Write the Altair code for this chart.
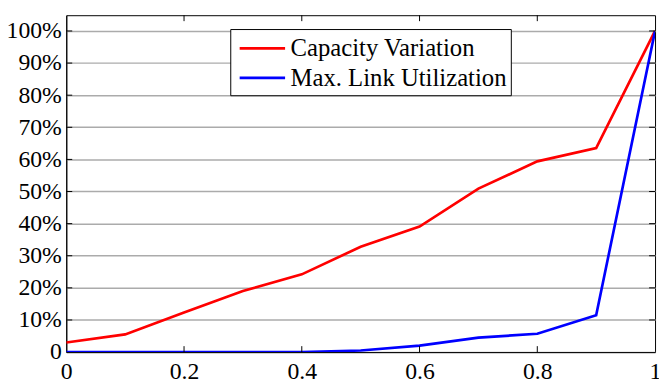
import altair as alt
import pandas as pd

x_vals = [0, 0.1, 0.2, 0.3, 0.4, 0.5, 0.6, 0.7, 0.8, 0.9, 1.0]
capacity = [3.0, 5.5, 12.3, 19.0, 24.2, 32.8, 39.1, 50.9, 59.4, 63.5, 100.0]
utilization = [0, 0, 0, 0, 0, 0.5, 2.0, 4.5, 5.7, 11.5, 100.0]
series_names = ["Capacity Variation", "Max. Link Utilization"]
series_colors = ["#ff0000", "#0000ff"]
x_ticks = [0, 0.2, 0.4, 0.6, 0.8, 1.0]
y_ticks = [0, 10, 20, 30, 40, 50, 60, 70, 80, 90, 100]

W, H = 596, 341
FONT = "Liberation Serif"

rows = []
for name, vals in zip(series_names, [capacity, utilization]):
    for xv, yv in zip(x_vals, vals):
        rows.append({"x": xv, "y": yv, "series": name})
df = pd.DataFrame(rows)

xs = alt.Scale(domain=[0, 1], nice=False, zero=False)
ys = alt.Scale(domain=[0, 104.9], nice=False)

x_axis = alt.Axis(
    values=x_ticks, format=".1~f", grid=False, ticks=False,
    labelFont=FONT, labelFontSize=24, labelColor="black", labelPadding=8,
    labelOverlap=False, domainColor="black", title=None, labelFlush=False)
y_axis = alt.Axis(
    values=y_ticks, labelExpr="datum.value == 0 ? '0' : datum.value + '%'",
    grid=True, gridColor="#ababab", gridWidth=1.5, ticks=False,
    labelOverlap=False, labelFlush=False,
    labelFont=FONT, labelFontSize=24, labelColor="black", labelPadding=5,
    domainColor="black", title=None)

lines = alt.Chart(df).mark_line(strokeWidth=2.7, clip=True).encode(
    x=alt.X("x:Q", scale=xs, axis=x_axis),
    y=alt.Y("y:Q", scale=ys, axis=y_axis),
    color=alt.Color("series:N", scale=alt.Scale(domain=series_names, range=series_colors),
                    legend=alt.Legend(
                        title=None, orient="none", legendX=166, legendY=14,
                        fillColor="white", strokeColor="black", padding=4,
                        symbolType="M-0.714,0H2.571", symbolSize=784, symbolStrokeWidth=2.7,
                        labelFont=FONT, labelFontSize=25, labelColor="black",
                        labelLimit=400, rowPadding=1, labelOffset=26, cornerRadius=0)),
)

xt = pd.DataFrame({"v": x_ticks[1:-1]})
yt = pd.DataFrame({"v": y_ticks[1:]})

bottom_ticks = alt.Chart(xt).mark_rule(color="black", strokeWidth=1).encode(
    x=alt.X("v:Q", scale=xs, axis=x_axis), y=alt.value(H), y2=alt.value(H - 6))
top_ticks = alt.Chart(xt).mark_rule(color="black", strokeWidth=1).encode(
    x=alt.X("v:Q", scale=xs, axis=x_axis), y=alt.value(0), y2=alt.value(6))
left_ticks = alt.Chart(yt).mark_rule(color="black", strokeWidth=1).encode(
    y=alt.Y("v:Q", scale=ys, axis=y_axis), x=alt.value(0), x2=alt.value(6))
right_ticks = alt.Chart(yt).mark_rule(color="black", strokeWidth=1).encode(
    y=alt.Y("v:Q", scale=ys, axis=y_axis), x=alt.value(W), x2=alt.value(W - 6))

chart = alt.layer(lines, bottom_ticks, top_ticks, left_ticks, right_ticks).properties(
    width=W, height=H,
    autosize=alt.AutoSizeParams(type="none"),
    padding={"left": 59, "top": 5, "right": 4, "bottom": 30},
    background="white",
).configure_view(stroke="black", strokeWidth=1)

chart.save("out.html", embed_options={"renderer": "svg", "actions": False})
